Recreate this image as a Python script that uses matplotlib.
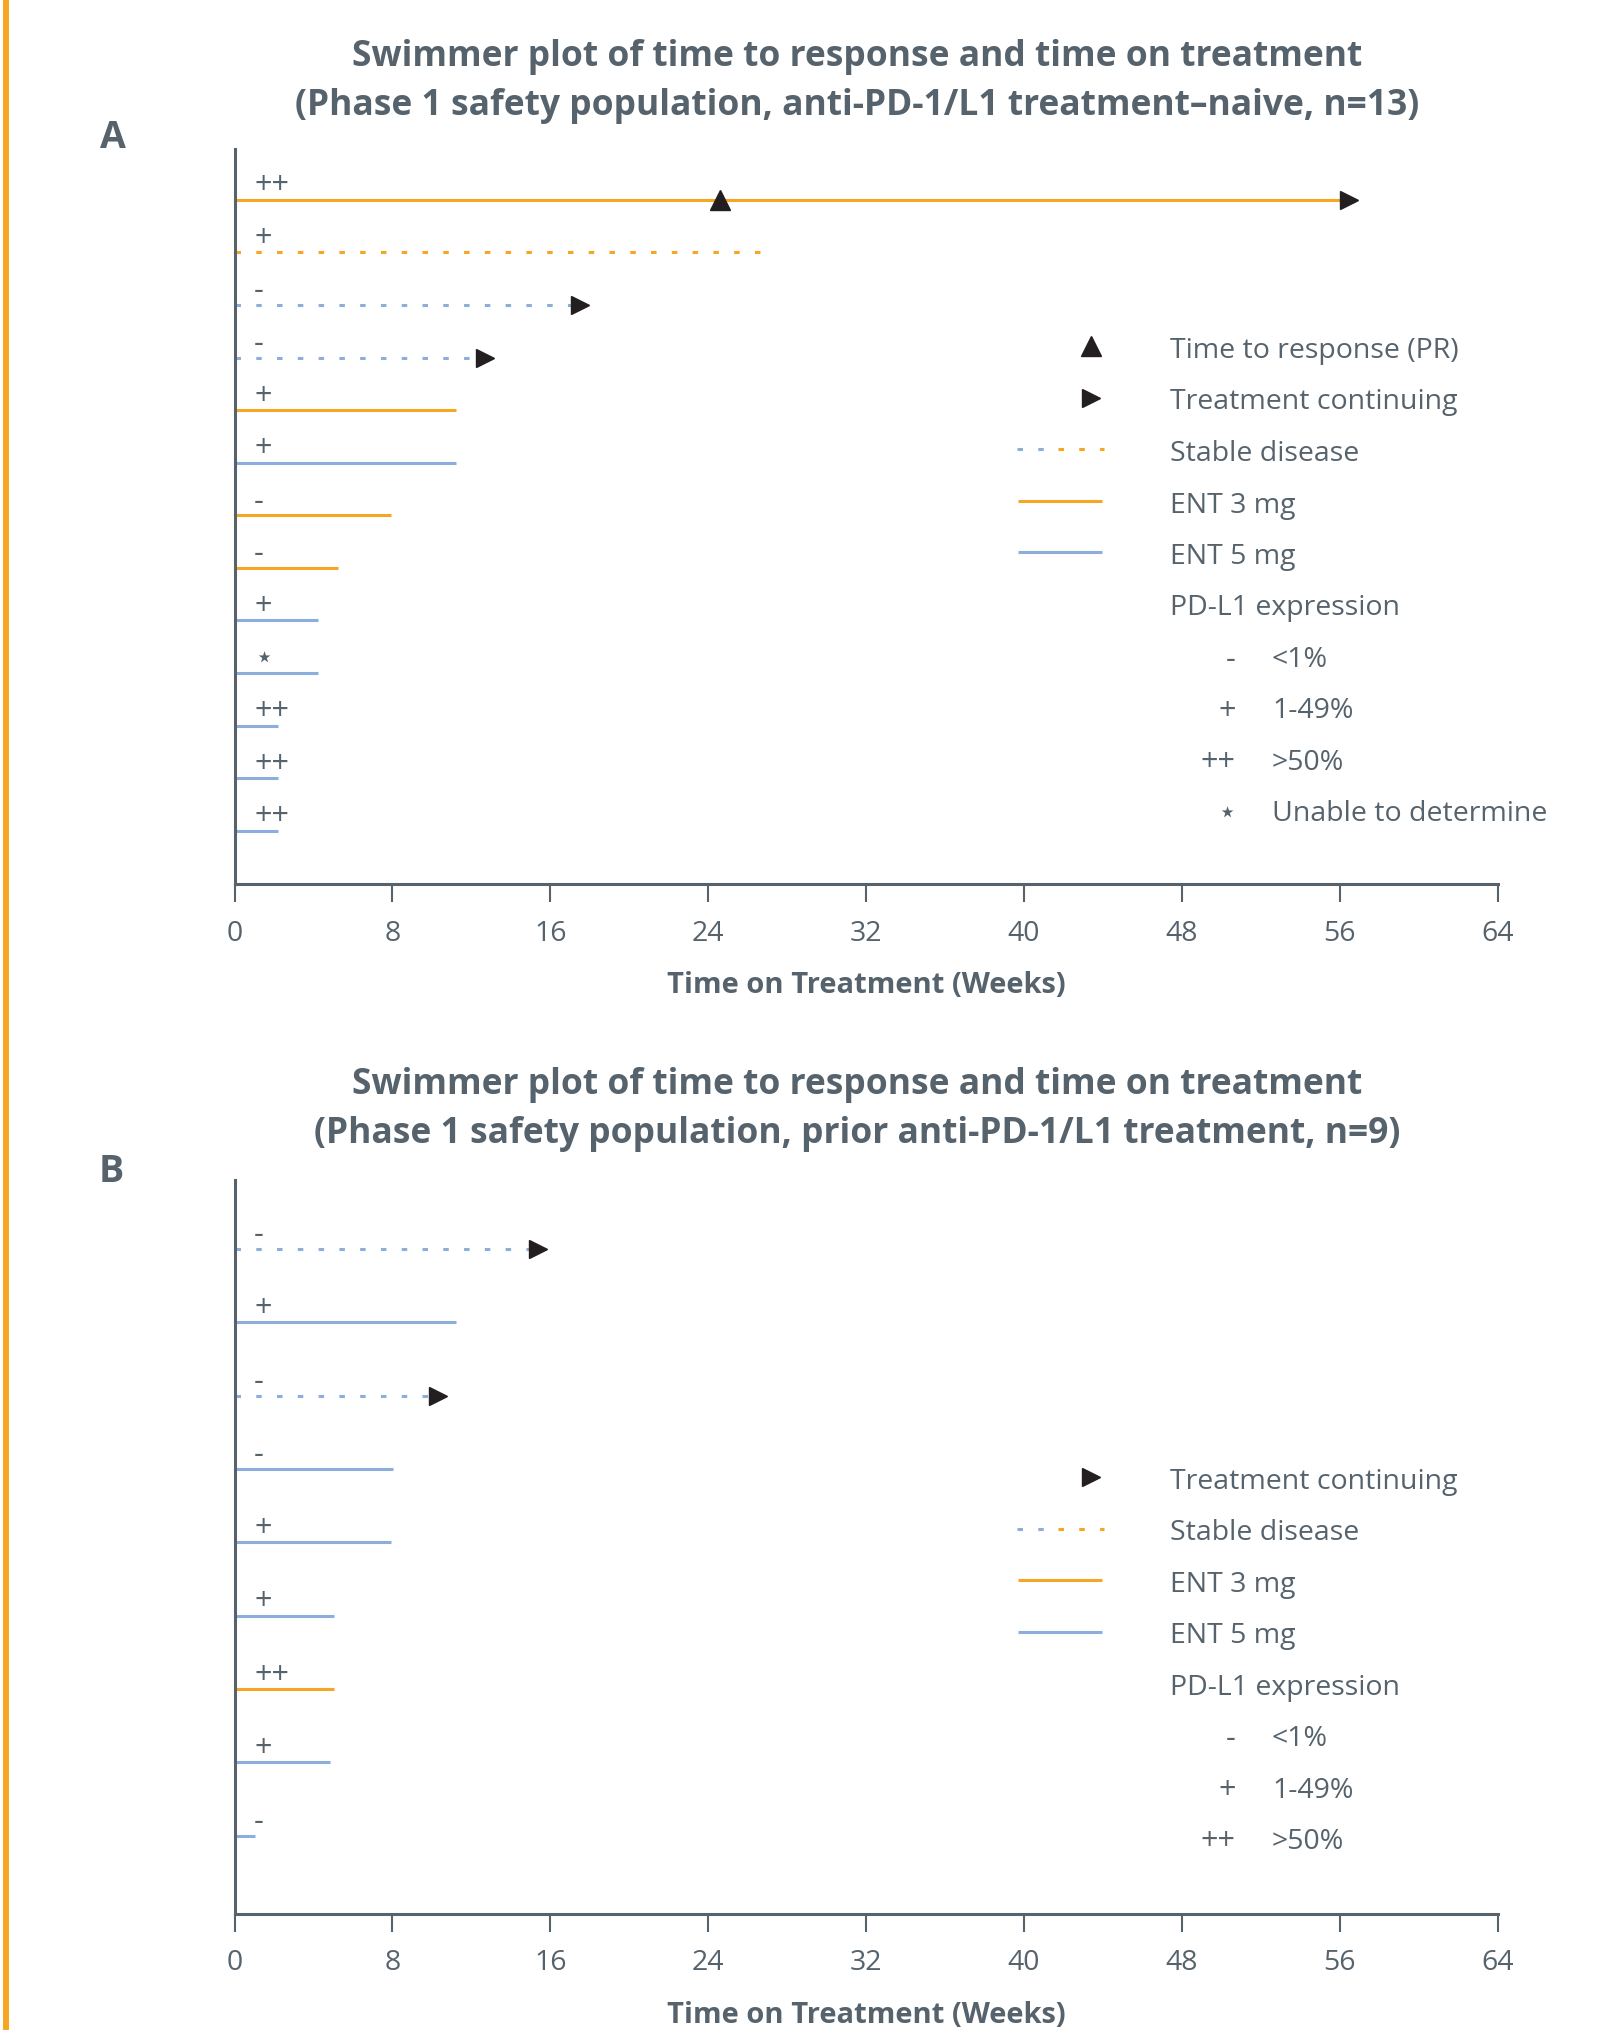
import matplotlib
matplotlib.use('Agg')
import matplotlib.pyplot as plt
from matplotlib.lines import Line2D

plt.rcParams['font.family'] = ['Open Sans', 'DejaVu Sans']

ORANGE = '#F6A623'
BLUE = '#8DAEDC'
GRAY = '#56636D'
BLACK = '#231F20'
DOTTED = (0, (1.8, 5.0))

W, H = 1618, 2031

# Panel A: anti-PD-1/L1 treatment-naive (top row first)
weeks_a = [56.5, 26.7, 17.5, 12.7, 11.2, 11.2, 7.95, 5.25, 4.25, 4.25, 2.2, 2.2, 2.2]
dose_a = [3, 3, 5, 5, 3, 5, 3, 3, 5, 5, 5, 5, 5]
stable_a = [False, True, True, True, False, False, False, False, False, False, False, False, False]
continuing_a = [True, False, True, True, False, False, False, False, False, False, False, False, False]
response_a = [24.6, None, None, None, None, None, None, None, None, None, None, None, None]
pdl1_a = ['++', '+', '-', '-', '+', '+', '-', '-', '+', '⋆', '++', '++', '++']

# Panel B: prior anti-PD-1/L1 treatment (top row first)
weeks_b = [15.4, 11.2, 10.3, 8.05, 7.95, 5.05, 5.05, 4.85, 1.05]
dose_b = [5, 5, 5, 5, 5, 5, 3, 5, 5]
stable_b = [True, False, True, False, False, False, False, False, False]
continuing_b = [True, False, True, False, False, False, False, False, False]
pdl1_b = ['-', '+', '-', '-', '+', '+', '++', '+', '-']

ticks = list(range(0, 65, 8))

title_a = ['Swimmer plot of time to response and time on treatment',
           '(Phase 1 safety population, anti-PD-1/L1 treatment\u2013naive, n=13)']
title_b = ['Swimmer plot of time to response and time on treatment',
           '(Phase 1 safety population, prior anti-PD-1/L1 treatment, n=9)']
pdl1_levels = [('-', '<1%'), ('+', '1-49%'), ('++', '>50%'), ('⋆', 'Unable to determine')]


def fx(x):
    return x / W


def fy(y):
    return 1 - y / H


def draw_swimmers(ax, weeks, dose, stable, continuing, pdl1, response=None):
    """Draw one horizontal lane per patient, top row first."""
    n = len(weeks)
    ys = list(range(n, 0, -1))
    for i, y in enumerate(ys):
        color = ORANGE if dose[i] == 3 else BLUE
        ls = DOTTED if stable[i] else '-'
        ax.plot([0, weeks[i]], [y, y], color=color, lw=2.2, ls=ls,
                solid_capstyle='butt', zorder=2, clip_on=False)
        if continuing[i]:
            ax.plot(weeks[i], y, marker='>', ms=13.5, color=BLACK, zorder=3, clip_on=False)
        if response is not None and response[i] is not None:
            ax.plot(response[i], y, marker='^', ms=15, color=BLACK, zorder=3)
        ax.annotate(pdl1[i], (1.0, y), xytext=(0, 10.5), textcoords='offset points',
                    ha='left', va='center', fontsize=22, color=GRAY)
    ax.set_xlim(0, 64)
    ax.set_ylim(-0.01 if n > 10 else -0.06, n + (0.966 if n > 10 else 0.935))
    ax.set_xticks(ticks)
    ax.set_yticks([])
    for side in ['top', 'right']:
        ax.spines[side].set_visible(False)
    for side in ['left', 'bottom']:
        ax.spines[side].set_linewidth(2.2)
        ax.spines[side].set_color(GRAY)
    ax.tick_params(axis='x', length=13, width=1.5, color=GRAY, labelsize=20.5,
                   labelcolor=GRAY, pad=12)
    ax.set_xlabel('Time on Treatment (Weeks)', fontsize=21, fontweight='bold',
                  color=GRAY, labelpad=17)


def draw_legend(fig, y0, show_response=True, show_unknown=True):
    """Legend drawn in figure pixels, y0 is the first row."""
    step = 51.5
    mx, tx = 1090.7, 1169.8
    rows = []
    if show_response:
        rows.append(('marker', '^', 15, 'Time to response (PR)'))
    else:
        rows.append(None)
    rows.append(('marker', '>', 13.5, 'Treatment continuing'))
    rows.append(('stable', None, None, 'Stable disease'))
    rows.append(('line', ORANGE, None, 'ENT 3 mg'))
    rows.append(('line', BLUE, None, 'ENT 5 mg'))
    rows.append(('text', None, None, 'PD-L1 expression'))
    for i, row in enumerate(rows):
        if row is None:
            continue
        y = fy(y0 + i * step)
        kind, a, b, label = row
        if kind == 'marker':
            fig.add_artist(Line2D([fx(mx)], [y], marker=a, ms=b, color=BLACK,
                                  transform=fig.transFigure))
        elif kind == 'stable':
            fig.add_artist(Line2D([fx(1017), fx(1045)], [y, y], color=BLUE, lw=2.2,
                                  ls=DOTTED, transform=fig.transFigure))
            fig.add_artist(Line2D([fx(1057.5), fx(1104)], [y, y], color=ORANGE, lw=2.2,
                                  ls=DOTTED, transform=fig.transFigure))
        elif kind == 'line':
            fig.add_artist(Line2D([fx(1018), fx(1102)], [y, y], color=a, lw=2.2,
                                  solid_capstyle='butt', transform=fig.transFigure))
        fig.text(fx(tx), y - 4 / H, label, ha='left', va='center', fontsize=20.5, color=GRAY)
    levels = pdl1_levels if show_unknown else pdl1_levels[:-1]
    for j, (sym, label) in enumerate(levels):
        y = fy(y0 + (len(rows) + j) * step) - 4 / H
        fig.text(fx(1236), y, sym, ha='right', va='center', fontsize=22, color=GRAY)
        fig.text(fx(1272), y, label, ha='left', va='center', fontsize=20.5, color=GRAY)


fig = plt.figure(figsize=(W / 100, H / 100), dpi=100)

ax_a = fig.add_axes([fx(234.5), fy(884.8), fx(1497.5) - fx(234.5), (884.8 - 150) / H])
draw_swimmers(ax_a, weeks_a, dose_a, stable_a, continuing_a, pdl1_a, response_a)

ax_b = fig.add_axes([fx(234.5), fy(1914.6), fx(1497.5) - fx(234.5), (1914.6 - 1181.4) / H])
draw_swimmers(ax_b, weeks_b, dose_b, stable_b, continuing_b, pdl1_b)

for (l1, l2), top in [(title_a, 57), (title_b, 1085)]:
    fig.text(fx(857.6), fy(top), l1, ha='center', va='center', fontsize=25.5,
             fontweight='bold', color=GRAY)
    fig.text(fx(857.6), fy(top + 49.5), l2, ha='center', va='center', fontsize=25.5,
             fontweight='bold', color=GRAY)

fig.text(fx(113), fy(138), 'A', ha='center', va='center', fontsize=27,
         fontweight='bold', color=GRAY)
fig.text(fx(111), fy(1172), 'B', ha='center', va='center', fontsize=27,
         fontweight='bold', color=GRAY)

draw_legend(fig, 347)
draw_legend(fig, 1426.5, show_response=False, show_unknown=False)

# orange page border on the left
fig.add_artist(Line2D([fx(5.6), fx(5.6)], [0, 1], color=ORANGE, lw=4.3,
                      transform=fig.transFigure))

fig.savefig('out.png', dpi=100)
